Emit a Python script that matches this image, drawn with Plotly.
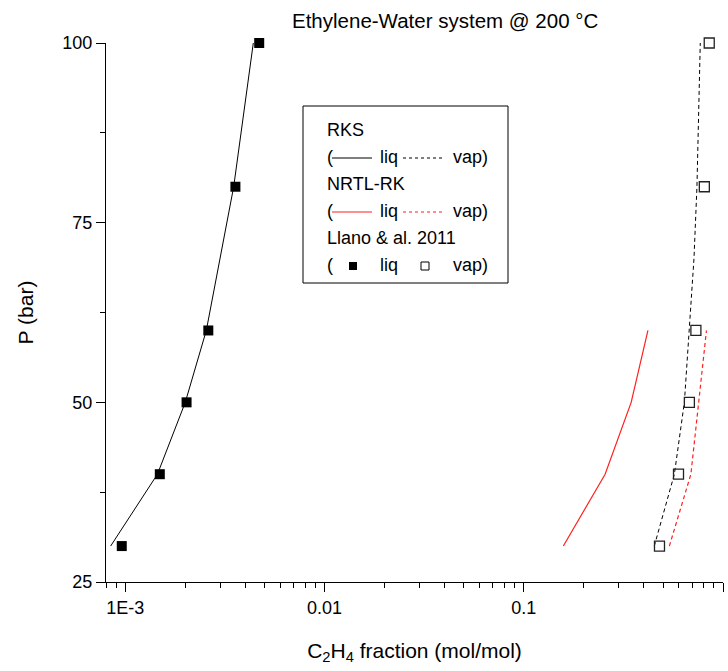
import plotly.graph_objects as go

# ---------------- data ----------------
P_exp = [30, 40, 50, 60, 80, 100]
x_liq_exp = [0.00096, 0.00149, 0.00203, 0.00261, 0.00357, 0.0047]
x_vap_exp = [0.48, 0.598, 0.678, 0.731, 0.806, 0.853]

P_rks = [30, 40, 50, 60, 80, 100]
x_liq_rks = [0.000844, 0.00145, 0.0020, 0.00255, 0.0035, 0.00439]
P_rks_vap = [30, 40, 50, 60, 70, 80, 90, 100]
x_vap_rks = [0.452, 0.570, 0.640, 0.678, 0.715, 0.740, 0.757, 0.769]

P_nrtl = [30, 40, 50, 60]
x_liq_nrtl = [0.158, 0.256, 0.346, 0.42]
x_vap_nrtl = [0.538, 0.690, 0.755, 0.826]

x_tickvals = [0.001, 0.01, 0.1, 1]
x_ticktext = ["1E-3", "0.01", "0.1", "1"]
y_tickvals = [25, 50, 75, 100]

FONT = "Liberation Sans, Arial, sans-serif"
W, H = 728, 671
L, R, T, B = 106, 5, 43, 89
pw, ph = W - L - R, H - T - B


def px(xp):
    return (xp - L) / pw


def py(yp):
    return (H - B - yp) / ph


fig = go.Figure()
fig.add_trace(go.Scatter(x=x_liq_rks, y=P_rks, mode="lines",
                         line=dict(color="black", width=1), showlegend=False))
fig.add_trace(go.Scatter(x=x_vap_rks, y=P_rks_vap, mode="lines",
                         line=dict(color="black", width=1, dash="4px,3px"), showlegend=False))
fig.add_trace(go.Scatter(x=x_liq_nrtl, y=P_nrtl, mode="lines",
                         line=dict(color="#ff2020", width=1.2), showlegend=False))
fig.add_trace(go.Scatter(x=x_vap_nrtl, y=P_nrtl, mode="lines",
                         line=dict(color="#ff2020", width=1.2, dash="4px,3px"), showlegend=False))
fig.add_trace(go.Scatter(x=x_liq_exp, y=P_exp, mode="markers", cliponaxis=False,
                         marker=dict(symbol="square", size=10, color="black"), showlegend=False))
fig.add_trace(go.Scatter(x=x_vap_exp, y=P_exp, mode="markers", cliponaxis=False,
                         marker=dict(symbol="square-open", size=10, color="#222",
                                     line=dict(width=1.3)), showlegend=False))

minor_x = []
for dec in [0.0001, 0.001, 0.01, 0.1]:
    for k in range(2, 10):
        v = k * dec
        if 0.0008 <= v <= 1:
            minor_x.append(v)

fig.update_layout(
    width=W, height=H,
    margin=dict(l=L, r=R, t=T, b=B),
    paper_bgcolor="white", plot_bgcolor="white",
    font=dict(family=FONT, size=18, color="black"),
    xaxis=dict(type="log", range=[-3.0969, 0], showgrid=False, zeroline=False,
               showline=True, linecolor="black", linewidth=1.3,
               tickmode="array", tickvals=x_tickvals, ticktext=x_ticktext,
               ticks="outside", ticklen=9, tickwidth=1.3, tickcolor="black",
               minor=dict(tickmode="array", tickvals=minor_x, ticks="outside",
                          ticklen=5, tickwidth=1.3, tickcolor="black", showgrid=False),
               tickfont=dict(size=18), automargin=False,
               title=dict(text="C<sub>2</sub>H<sub>4</sub> fraction (mol/mol)",
                          font=dict(size=21), standoff=26)),
    yaxis=dict(range=[25, 100], showgrid=False, zeroline=False,
               showline=True, linecolor="black", linewidth=1.3,
               tickmode="array", tickvals=y_tickvals,
               ticks="outside", ticklen=9, tickwidth=1.3, tickcolor="black",
               minor=dict(tickmode="array", tickvals=[37.5, 62.5, 87.5], ticks="outside",
                          ticklen=5, tickwidth=1.3, tickcolor="black", showgrid=False),
               tickfont=dict(size=18), automargin=False,
               title=dict(text="P (bar)", font=dict(size=21), standoff=22)),
)


def ann(text, xp, yp, anchor="left", size=18):
    return dict(text=text, x=px(xp), y=py(yp), xref="paper", yref="paper",
                xanchor=anchor, yanchor="middle", showarrow=False,
                font=dict(size=size, family=FONT, color="black"))


annotations = [ann("Ethylene-Water system @ 200 °C", 445, 20, "center", 20.5)]

# legend box
shapes = [dict(type="rect", xref="paper", yref="paper", x0=px(303), x1=px(508),
               y0=py(283), y1=py(106), line=dict(color="black", width=1), fillcolor="white",
               layer="below")]

rows_y = [130, 157, 184, 211, 238, 265]
lx = 325
for txt, yy in [("RKS", rows_y[0]), ("NRTL-RK", rows_y[2]), ("Llano &amp; al. 2011", rows_y[4])]:
    annotations.append(ann(txt, lx, yy))
for yy in [rows_y[1], rows_y[3], rows_y[5]]:
    annotations.append(ann("(", lx, yy))
    annotations.append(ann("liq", 378, yy))
    annotations.append(ann("vap)", 451, yy))

for yy, col in [(rows_y[1], "black"), (rows_y[3], "#ff2020")]:
    shapes.append(dict(type="line", xref="paper", yref="paper", x0=px(332), x1=px(372),
                       y0=py(yy + 1), y1=py(yy + 1), line=dict(color=col, width=1.2)))
    shapes.append(dict(type="line", xref="paper", yref="paper", x0=px(403), x1=px(443),
                       y0=py(yy + 1), y1=py(yy + 1), line=dict(color=col, width=1.2, dash="3px,3px")))

yy = rows_y[5]
shapes.append(dict(type="rect", xref="paper", yref="paper", x0=px(349), x1=px(357),
                   y0=py(yy + 5), y1=py(yy - 3), fillcolor="black", line=dict(width=0)))
shapes.append(dict(type="rect", xref="paper", yref="paper", x0=px(421), x1=px(429),
                   y0=py(yy + 5), y1=py(yy - 3), fillcolor="white",
                   line=dict(color="black", width=1)))

fig.update_layout(annotations=annotations, shapes=shapes)
fig.write_html("out.html")
